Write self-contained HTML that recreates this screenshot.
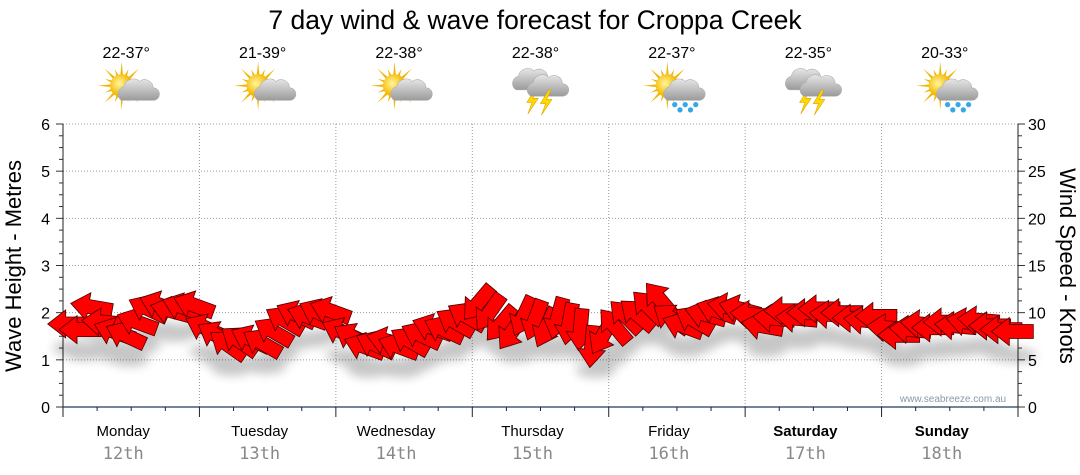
<!DOCTYPE html>
<html><head><meta charset="utf-8"><style>
body{margin:0;background:#fff;font-family:"Liberation Sans",sans-serif}
svg{display:block}
</style></head><body>
<svg id="chart" width="1080" height="475">
<defs>
<filter id="sh" x="-50%" y="-50%" width="200%" height="200%"><feGaussianBlur stdDeviation="5"/></filter>
<radialGradient id="sun" cx="0.4" cy="0.4"><stop offset="0" stop-color="#fff7a0"/><stop offset="1" stop-color="#f5b800"/></radialGradient>
<linearGradient id="cloud" x1="0" y1="0" x2="0" y2="1"><stop offset="0" stop-color="#e6e6e6"/><stop offset="1" stop-color="#9a9a9a"/></linearGradient>
</defs>
<text x="535" y="29" text-anchor="middle" font-size="26.5" fill="#000">7 day wind &amp; wave forecast for Croppa Creek</text>
<g id="grid"></g>
<g id="axes"></g>
<g id="icons"></g>
<g id="shadows" filter="url(#sh)" opacity="0.22"></g>
<g id="arrows"></g>
<text x="953" y="402" text-anchor="middle" font-size="10" fill="#8899aa">www.seabreeze.com.au</text>
<text transform="translate(21,266) rotate(-90)" text-anchor="middle" font-size="22">Wave Height - Metres</text>
<text transform="translate(1060,266) rotate(90)" text-anchor="middle" font-size="22">Wind Speed - Knots</text>
</svg>
<script>
const days=["Monday","Tuesday","Wednesday","Thursday","Friday","Saturday","Sunday"];
const dates=["12th","13th","14th","15th","16th","17th","18th"];
const temps=["22-37°","21-39°","22-38°","22-38°","22-37°","22-35°","20-33°"];
const icons=["partly","partly","partly","storm","rain","storm","rain"];
const waveTicks=[0,1,2,3,4,5,6];
const windTicks=[0,5,10,15,20,25,30];
// wind speed (knots), 2-hourly
const windSpeed=[
8.8,8.2,10.6,9.0,8.0,7.6,9.0,10.4,10.8,10.2,10.6,10.8,
8.4,7.6,6.6,7.0,7.2,6.8,8.0,9.2,9.8,9.6,10.0,10.2,
8.0,7.4,6.4,6.6,7.0,6.4,7.0,7.6,8.4,8.2,9.0,9.6,
11.0,10.0,8.8,8.0,9.6,9.2,8.4,9.4,8.8,8.2,6.4,7.6,
8.6,9.6,9.8,10.6,11.4,9.4,8.6,9.2,9.8,10.2,10.6,10.4,
9.8,8.6,9.4,10.2,9.4,10.0,10.4,9.8,10.0,9.4,9.2,9.6,
8.4,7.6,8.2,8.8,8.4,9.0,8.6,9.0,9.2,8.6,8.2,8.0];
// arrow pointing direction (deg, 180 = left, 210 = up-left, 150 = down-left)
const windDir=[
180,180,190,185,200,205,200,205,200,195,200,200,
205,210,215,215,205,210,210,210,205,200,205,200,
205,210,200,205,195,200,210,205,200,205,210,210,
130,125,130,125,115,110,115,105,100,95,95,120,
230,225,220,225,230,215,200,210,195,200,190,195,
185,190,185,180,185,180,180,185,180,180,185,180,
185,180,185,185,180,180,185,190,185,180,180,180];

const svg=document.getElementById('chart');
const NS="http://www.w3.org/2000/svg";
const X0=63,X1=1018,Y0=407,Y1=124,DW=(X1-X0)/7;
const yWave=v=>Y0-(v/6)*(Y0-Y1);
const yWind=v=>Y0-(v/30)*(Y0-Y1);
const xTime=i=>X0+(i+0.5)*(X1-X0)/windSpeed.length;
function mk(tag,attrs,parent){const e=document.createElementNS(NS,tag);for(const k in attrs)e.setAttribute(k,attrs[k]);parent.appendChild(e);return e;}
const grid=document.getElementById('grid'),axes=document.getElementById('axes');
waveTicks.forEach(v=>{
 if(v>0){const l=mk('line',{x1:X0,x2:X1,y1:yWave(v),y2:yWave(v),stroke:'#999','stroke-dasharray':'1,2'},grid);
 
 }
 const t=mk('text',{x:50,y:yWave(v)+6,'text-anchor':'end','font-size':16},axes);t.textContent=v;
 
 
});
for(let v=0;v<=6;v+=0.25){const y=yWave(v);mk('line',{x1:v%1?X0-4:X0-7,x2:X0,y1:y,y2:y,stroke:'#333'},axes);mk('line',{x1:X1,x2:v%1?X1+4:X1+7,y1:y,y2:y,stroke:'#333'},axes);}
windTicks.forEach(v=>{
 const t=mk('text',{x:1028,y:yWind(v)+6,'font-size':16},axes);t.textContent=v;
 
 
});
mk('line',{x1:X0,x2:X0,y1:Y1,y2:Y0,stroke:'#222'},axes);
mk('line',{x1:X1,x2:X1,y1:Y1,y2:Y0,stroke:'#222'},axes);
mk('line',{x1:X0,x2:X1,y1:Y0,y2:Y0,stroke:'#1f3f5f','stroke-width':1.2},axes);
for(let d=0;d<=7;d++){const x=X0+d*DW;
 if(d>0&&d<7)mk('line',{x1:x,x2:x,y1:Y1,y2:Y0,stroke:'#999','stroke-dasharray':'1,2'},grid);
 mk('line',{x1:x,x2:x,y1:Y0,y2:Y0+10,stroke:'#222'},axes);
 if(d<7)for(let q=1;q<4;q++){const xx=x+q*DW/4;mk('line',{x1:xx,x2:xx,y1:Y0,y2:Y0+4,stroke:'#222'},axes);}
}
const iconsG=document.getElementById('icons');
function sunG(g,cx,cy){for(let k=0;k<16;k++){const a=k*Math.PI/8,r=k%2?17:23;mk('polygon',{points:`${cx+Math.cos(a-0.15)*9},${cy+Math.sin(a-0.15)*9} ${cx+Math.cos(a)*r},${cy+Math.sin(a)*r} ${cx+Math.cos(a+0.15)*9},${cy+Math.sin(a+0.15)*9}`,fill:'#f2b400'},g);}mk('circle',{cx,cy,r:11,fill:'url(#sun)'},g);}
function cloudG(g,cx,cy,s){mk('path',{d:`M${cx-15*s},${cy+8*s} a7,7 0 0 1 2,-13 a9,9 0 0 1 15,-5 a8,8 0 0 1 13,6 a6,6 0 0 1 0,12 z`,fill:'url(#cloud)',stroke:'#aaa','stroke-width':0.5},g);}
function bolt(g,cx,cy){mk('polygon',{points:`${cx+3},${cy-10} ${cx-5},${cy+3} ${cx},${cy+3} ${cx-4},${cy+14} ${cx+6},${cy-1} ${cx+1},${cy-1} ${cx+5},${cy-10}`,fill:'#ffd800',stroke:'#d9a000','stroke-width':0.5},g);}
for(let d=0;d<7;d++){const cx=X0+(d+0.5)*DW;
 const t=mk('text',{x:cx-5,y:58,'text-anchor':'middle','font-size':16},axes);t.textContent=temps[d];
 
 
 const g=mk('g',{transform:`translate(${cx+2},92) scale(1.05) translate(${-cx},-92)`},iconsG);
 
 
 if(icons[d]=='storm'){cloudG(g,cx-10,82,1);bolt(g,cx-10,99);cloudG(g,cx+4,88,1);bolt(g,cx+3,100);}
 else{sunG(g,cx-11,86);cloudG(g,cx+4,92,1);if(icons[d]=='rain'){for(let k=0;k<5;k++)mk('circle',{cx:cx-4+k*5,cy:104+(k%2)*5,r:2.5,fill:'#35a8e8'},g);}}
 const dl=mk('text',{x:cx-8,y:436,'text-anchor':'middle','font-size':15,'font-weight':d>=5?'bold':'normal'},axes);dl.textContent=days[d];
 
 
 const dt=mk('text',{x:cx-8,y:459,'text-anchor':'middle','font-size':17,fill:'#888','font-family':'DejaVu Sans Mono, Liberation Mono, monospace'},axes);dt.textContent=dates[d];
 
 
}
const AP="M21,0 L3,-14 L3,-7 L-21,-7 L-21,7 L3,7 L3,14 Z";
const arG=document.getElementById('arrows'),shG=document.getElementById('shadows');
windSpeed.forEach((v,i)=>{
 const x=xTime(i),y=yWind(v);
 mk('ellipse',{cx:x+4,cy:y+24,rx:20,ry:7,fill:'#000'},shG);
 const a=mk('path',{d:AP,transform:`translate(${x},${y}) rotate(${windDir[i]})`,fill:'#ff0000',stroke:'#4a0000','stroke-width':0.8,'stroke-linejoin':'miter'},arG);
 
 
});
</script>
</body></html>
